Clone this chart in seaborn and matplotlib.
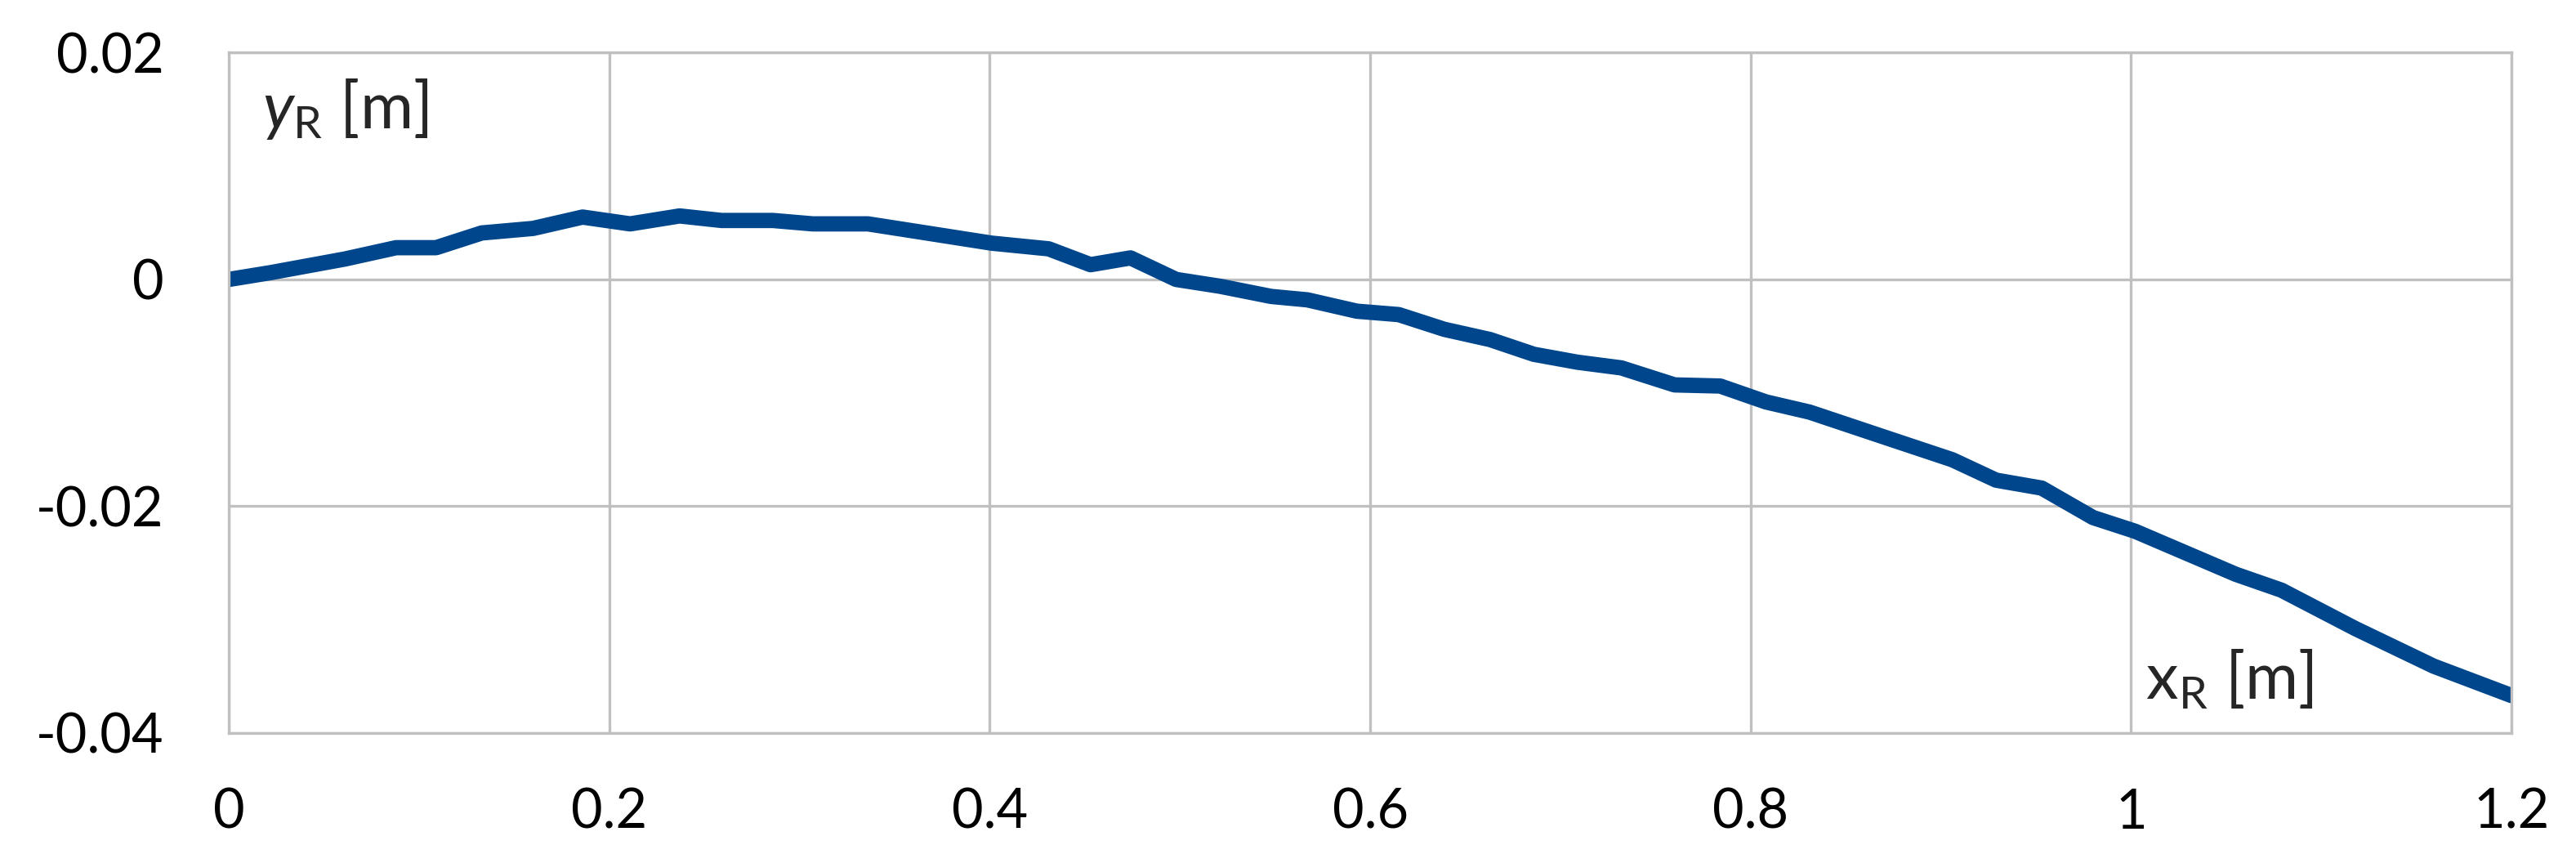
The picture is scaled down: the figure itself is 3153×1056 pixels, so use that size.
import matplotlib
matplotlib.use('Agg')
import matplotlib.pyplot as plt
import seaborn as sns
import pandas as pd

# rope/track shape
x_r = [0, 0.022, 0.061, 0.088, 0.109, 0.133, 0.16, 0.186, 0.211, 0.237, 0.259, 0.286,
       0.307, 0.336, 0.359, 0.401, 0.431, 0.453, 0.474, 0.498, 0.521, 0.548, 0.567,
       0.593, 0.615, 0.639, 0.663, 0.686, 0.709, 0.732, 0.760, 0.784, 0.808, 0.831,
       0.872, 0.906, 0.929, 0.953, 0.980, 1.002, 1.055, 1.079, 1.118, 1.159, 1.2]
y_r = [0, 0.0006, 0.0018, 0.0028, 0.0028, 0.0041, 0.0045, 0.0055, 0.0049, 0.0056,
       0.0052, 0.0052, 0.0049, 0.0049, 0.0043, 0.0032, 0.0027, 0.0013, 0.0019, 0.0,
       -0.0006, -0.0015, -0.0018, -0.0028, -0.0031, -0.0044, -0.0053, -0.0066,
       -0.0073, -0.0078, -0.0093, -0.0094, -0.0108, -0.0117, -0.0140, -0.0159,
       -0.0177, -0.0184, -0.0210, -0.0222, -0.0260, -0.0274, -0.0308, -0.0341,
       -0.0367]
x_ticks = [0, 0.2, 0.4, 0.6, 0.8, 1.0, 1.2]
x_labels = ['0', '0.2', '0.4', '0.6', '0.8', '1', '1.2']
y_ticks = [-0.04, -0.02, 0, 0.02]
y_labels = ['-0.04', '-0.02', '0', '0.02']

df = pd.DataFrame({'x': x_r, 'y': y_r})

sns.set_style('white')
plt.rcParams['font.family'] = ['Lato', 'DejaVu Sans']
plt.rcParams['mathtext.fontset'] = 'custom'
plt.rcParams['mathtext.rm'] = 'Lato'
plt.rcParams['mathtext.it'] = 'Lato:italic'

fig = plt.figure(figsize=(10.51, 3.52), dpi=300)
ax = fig.add_axes([0.0888, 0.1506, 0.8862, 0.7884])

sns.lineplot(data=df, x='x', y='y', ax=ax, sort=False, estimator=None,
             color='#00468C', lw=4.5)

ax.set_xlim(0, 1.2)
ax.set_ylim(-0.04, 0.02)
ax.set_xticks(x_ticks)
ax.set_xticklabels(x_labels)
ax.set_yticks(y_ticks)
ax.set_yticklabels(y_labels)
ax.grid(True, color='#C0C0C0', lw=0.8)
for s in ax.spines.values():
    s.set_color('#C0C0C0')
    s.set_linewidth(0.8)
ax.tick_params(axis='both', length=0, labelsize=16, colors='black')
ax.tick_params(axis='x', pad=16)
ax.tick_params(axis='y', pad=19)
ax.set_xlabel('')
ax.set_ylabel('')

# axis names sit inside the plot area, Excel style
ax.text(0.0176, 0.0150, r'$\mathit{y}_{\mathrm{R}}$ [m]', fontsize=19, va='center', ha='left')
ax.text(1.0077, -0.0352, r'x$_{\mathrm{R}}$ [m]', fontsize=19, va='center', ha='left')

plt.savefig('out.png', dpi=300)
